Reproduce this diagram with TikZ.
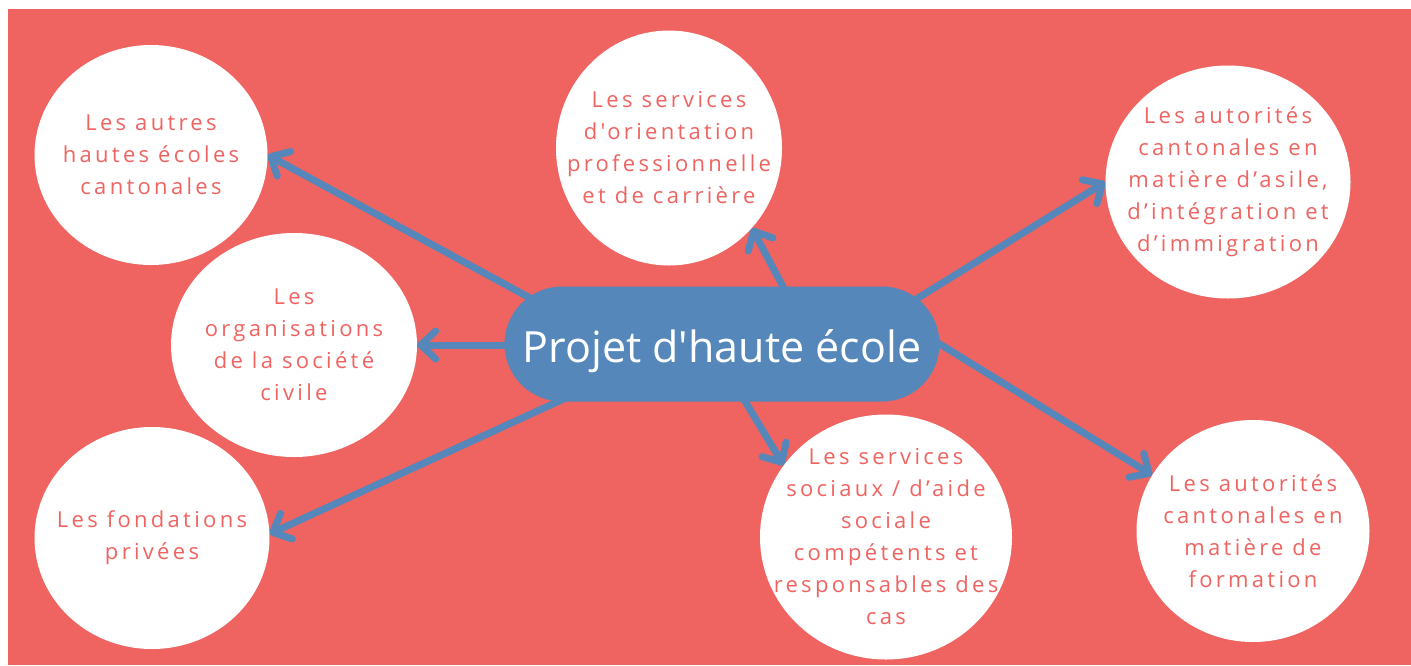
\documentclass[tikz,border=0pt]{standalone}
\usepackage{fontspec}
\setmainfont{Open Sans}[Ligatures=TeXOff]
\usetikzlibrary{arrows.meta,shapes.geometric}
\definecolor{coral}{HTML}{EF6461}
\definecolor{steel}{HTML}{5587BA}
\pgfdeclarelayer{back}
\pgfdeclarelayer{links}
\pgfsetlayers{back,links,main}

\begin{document}
\begin{tikzpicture}[x=1pt,y=-1pt,
  bubbletext/.style={text=coral, align=center, inner sep=0pt,
    font=\fontsize{22}{32}\selectfont\addfontfeatures{LetterSpace=15}},
  bubble/.style={ellipse, fill=white, inner sep=0pt,
    label={[bubbletext]center:#1}},
  hub/.style={rectangle, rounded corners=57.5pt, fill=steel, text=white,
    minimum width=435pt, minimum height=115pt, inner sep=0pt,
    text height=36pt, text depth=0pt,
    font=\fontsize{43}{50}\selectfont},
  link/.style={draw=steel, line width=7pt, line cap=round,
    -{Straight Barb[length=15pt,width=28pt,round]}}]

\useasboundingbox (0,0) rectangle (1411,665);
\begin{pgfonlayer}{back}
  \fill[coral] (8,9) rectangle (1411,665);
\end{pgfonlayer}

% central project
\node[hub] (hub) at (722,344) {Projet d'haute école};

% partner bubbles
\node[bubble={Les autres\\hautes écoles\\cantonales},
  minimum width=233pt, minimum height=220pt] (c1) at (151,155) {};
\node[bubble={Les\\organisations\\de la société\\civile},
  minimum width=246pt, minimum height=224pt] (c2) at (294,345) {};
\node[bubble={Les fondations\\privées},
  minimum width=235pt, minimum height=222pt] (c3) at (152,538) {};
\node[bubble={Les services\\d'orientation\\professionnelle\\et de carrière},
  minimum width=226pt, minimum height=235pt] (c4) at (669,148) {};
\node[bubble={Les autorités\\cantonales en\\matière d’asile,\\d’intégration et\\d’immigration},
  minimum width=245pt, minimum height=233pt] (c5) at (1228,182) {};
\node[bubble={Les services\\sociaux / d’aide\\sociale\\compétents et\\responsables des\\cas},
  minimum width=252pt, minimum height=245pt] (c6) at (886,537) {};
\node[bubble={Les autorités\\cantonales en\\matière de\\formation},
  minimum width=233pt, minimum height=222pt] (c7) at (1253,531) {};

% connectors, tucked beneath the nodes
\begin{pgfonlayer}{links}
  \draw[link] ([shift={(-192,-46)}]hub.center) -- (c1.0);
  \draw[link] ([shift={(-212,1)}]hub.center) -- (c2.0);
  \draw[link] ([shift={(-152,52)}]hub.center) -- (c3.2);
  \draw[link] ([shift={(68,-44)}]hub.center) -- (c4.-44);
  \draw[link] ([shift={(183,-38)}]hub.center) -- (c5.180);
  \draw[link] ([shift={(15,44)}]hub.center) -- (c6.145);
  \draw[link] ([shift={(208,-6)}]hub.center) -- (c7.151);
\end{pgfonlayer}
\end{tikzpicture}
\end{document}
